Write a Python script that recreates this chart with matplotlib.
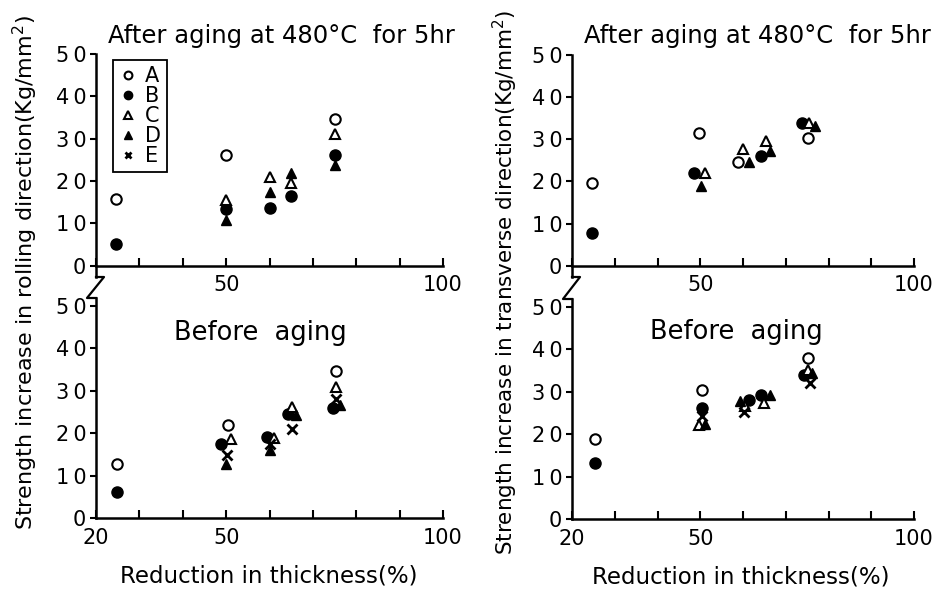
import matplotlib
matplotlib.use("Agg")
import matplotlib.pyplot as plt
from matplotlib.lines import Line2D

plt.rcParams['font.family'] = ['DejaVu Sans']

# x = reduction in thickness (%), y = strength increase (Kg/mm2)
# rolling direction, after aging
ra_A_x = [24.6, 50, 75.2]
ra_A_y = [15.7, 26.2, 34.6]
ra_B_x = [24.7, 50, 60, 65, 75.2]
ra_B_y = [5, 13.3, 13.6, 16.5, 26.2]
ra_C_x = [50, 60, 65, 75.2]
ra_C_y = [15.5, 21, 19.5, 31.1]
ra_D_x = [50, 60, 65, 75.2]
ra_D_y = [10.8, 17.3, 21.8, 23.8]
ra_E_x = []
ra_E_y = []

# rolling direction, before aging
rb_A_x = [24.8, 50.4, 75.4]
rb_A_y = [12.8, 22, 34.6]
rb_B_x = [24.8, 48.9, 59.4, 64.2, 74.6]
rb_B_y = [6.1, 17.5, 19.1, 24.5, 26]
rb_C_x = [51.2, 61, 65.2, 75.4]
rb_C_y = [18.7, 18.8, 26.2, 30.9]
rb_D_x = [50, 60.2, 66.1, 76.3]
rb_D_y = [12.8, 16.1, 24.2, 26.6]
rb_E_x = [50.2, 60.2, 65.3, 75.4]
rb_E_y = [14.9, 17.5, 20.9, 28.1]

# transverse direction, after aging
ta_A_x = [24.7, 49.8, 58.9, 75.3]
ta_A_y = [19.7, 31.6, 24.6, 30.4]
ta_B_x = [24.7, 48.5, 64.1, 73.8]
ta_B_y = [7.8, 22.1, 26.1, 33.9]
ta_C_x = [51.1, 60.1, 65.3, 75.4]
ta_C_y = [22.0, 27.6, 29.6, 33.8]
ta_D_x = [50.1, 61.3, 66.4, 76.9]
ta_D_y = [19.0, 24.5, 27.1, 33.2]
ta_E_x = []
ta_E_y = []

# transverse direction, before aging
tb_A_x = [25.3, 50.5, 75.3]
tb_A_y = [18.8, 30.3, 37.8]
tb_B_x = [25.3, 50.5, 61.3, 64.3, 74.3]
tb_B_y = [13.2, 26.2, 28.1, 29.3, 33.8]
tb_C_x = [49.8, 60.5, 65.0, 75.3]
tb_C_y = [22.2, 26.6, 27.3, 35.2]
tb_D_x = [51.1, 59.4, 66.2, 76.2]
tb_D_y = [22.4, 27.7, 29.1, 34.4]
tb_E_x = [50.4, 60.3, 75.6]
tb_E_y = [24.2, 25.2, 32.1]

labels = ['A', 'B', 'C', 'D', 'E']
x_ticks = [20, 30, 40, 50, 60, 70, 80, 90, 100]
y_ticks = [0, 10, 20, 30, 40, 50]
y_ticklabels = ['0', '1\u20090', '2\u20090', '3\u20090', '4\u20090', '5\u20090']

styles = {
    'A': dict(marker='o', mfc='white', mec='black', ms=7.5, mew=1.5),
    'B': dict(marker='o', mfc='black', mec='black', ms=8, mew=1),
    'C': dict(marker='^', mfc='white', mec='black', ms=7, mew=1.5),
    'D': dict(marker='^', mfc='black', mec='black', ms=7.5, mew=1),
    'E': dict(marker='x', color='black', mec='black', ms=6.5, mew=2),
}


def draw(ax, series, upper):
    for lab, (xs, ys) in zip(labels, series):
        ax.plot(xs, ys, ls='none', label=lab, **styles[lab])
    ax.set_xlim(20, 100)
    if upper:
        ax.set_ylim(-2.7, 50)
        ax.spines['bottom'].set_position(('data', 0))
        xl = ['' if v not in (50, 100) else str(v) for v in x_ticks]
    else:
        ax.set_ylim(0, 51.8)
        xl = [str(v) if v in (20, 50, 100) else '' for v in x_ticks]
    ax.set_xticks(x_ticks)
    ax.set_xticklabels(xl)
    ax.set_yticks(y_ticks)
    ax.set_yticklabels(y_ticklabels)
    for s in ['top', 'right']:
        ax.spines[s].set_visible(False)
    for s in ['left', 'bottom']:
        ax.spines[s].set_linewidth(1.8)
    ax.tick_params(axis='x', direction='in', length=6, width=1.5, pad=7, labelsize=15)
    ax.tick_params(axis='y', direction='out', length=4, width=1.5, pad=3, labelsize=15)


fig = plt.figure(figsize=(9.36, 5.9), dpi=100)
W, H = 936, 590


def box(l, r, top, bottom):
    return [l / W, 1 - bottom / H, (r - l) / W, (bottom - top) / H]


ax_ra = fig.add_axes(box(96, 443, 54, 277))
ax_rb = fig.add_axes(box(96, 443, 298, 518))
ax_ta = fig.add_axes(box(572, 914, 55, 277))
ax_tb = fig.add_axes(box(572, 914, 299, 519))

draw(ax_ra, [(ra_A_x, ra_A_y), (ra_B_x, ra_B_y), (ra_C_x, ra_C_y), (ra_D_x, ra_D_y), (ra_E_x, ra_E_y)], True)
draw(ax_rb, [(rb_A_x, rb_A_y), (rb_B_x, rb_B_y), (rb_C_x, rb_C_y), (rb_D_x, rb_D_y), (rb_E_x, rb_E_y)], False)
draw(ax_ta, [(ta_A_x, ta_A_y), (ta_B_x, ta_B_y), (ta_C_x, ta_C_y), (ta_D_x, ta_D_y), (ta_E_x, ta_E_y)], True)
draw(ax_tb, [(tb_A_x, tb_A_y), (tb_B_x, tb_B_y), (tb_C_x, tb_C_y), (tb_D_x, tb_D_y), (tb_E_x, tb_E_y)], False)

# legend
handles = [Line2D([], [], ls='none', **dict(styles[l], ms=styles[l]['ms'] * 0.75)) for l in labels]
leg = ax_ra.legend(handles, labels, loc='upper left', bbox_to_anchor=(0.05, 0.975),
                   borderaxespad=0, fontsize=15, handlelength=0.8, handletextpad=0.4,
                   labelspacing=0.0, borderpad=0.3, fancybox=False, framealpha=1)
leg.get_frame().set_edgecolor('black')
leg.get_frame().set_linewidth(1.3)

# axis break marks between upper and lower panels
for up, low in [(ax_ra, ax_rb), (ax_ta, ax_tb)]:
    p_up = up.get_position()
    p_low = low.get_position()
    x0 = p_up.x0
    fig.add_artist(Line2D([x0, x0 + 8 / W, x0 - 9 / W, x0],
                          [p_up.y0, p_up.y0, p_low.y1, p_low.y1],
                          transform=fig.transFigure, color='black', lw=1.6))

# texts
title = 'After aging at 480\u00b0C  for 5hr'
fig.text(281 / W, 1 - 36 / H, title, ha='center', va='center', fontsize=17.5)
fig.text(757 / W, 1 - 36 / H, title, ha='center', va='center', fontsize=17.5)
ax_rb.text(58, 43.5, 'Before  aging', ha='center', va='center', fontsize=18.5)
ax_tb.text(58.5, 44, 'Before  aging', ha='center', va='center', fontsize=18.5)

fig.text(25 / W, 1 - 273 / H, 'Strength increase in rolling direction(Kg/mm$^2$)',
         rotation=90, ha='center', va='center', fontsize=16)
fig.text(505 / W, 1 - 283 / H, 'Strength increase in transverse direction(Kg/mm$^2$)',
         rotation=90, ha='center', va='center', fontsize=15.5)
fig.text(269 / W, 1 - 576 / H, 'Reduction in thickness(%)', ha='center', va='center', fontsize=16.5)
fig.text(741 / W, 1 - 577 / H, 'Reduction in thickness(%)', ha='center', va='center', fontsize=16.5)

fig.savefig('out.png', dpi=100)
